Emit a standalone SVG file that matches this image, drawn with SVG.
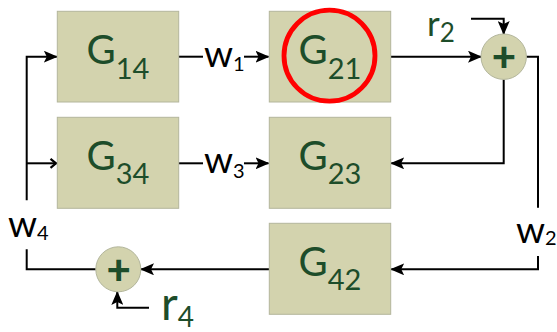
<svg xmlns="http://www.w3.org/2000/svg" width="557" height="332" viewBox="0 0 557 332">
<defs>
<style>
.box{fill:#d3d3ae;stroke:#b3b69c;stroke-width:1}
.sum{fill:#d3d3ae;stroke:#b3b69c;stroke-width:1}
.g{font-family:Lato,"Liberation Sans",sans-serif;font-size:40px;fill:#1d4d2a}
.g tspan{font-size:29px}
.w{font-family:Lato,"Liberation Sans",sans-serif;font-size:37px;fill:#000}
.w tspan{font-size:20px}
.r{font-family:Lato,"Liberation Sans",sans-serif;fill:#1d4d2a}
.plus{font-family:Lato,"Liberation Sans",sans-serif;font-size:42px;font-weight:900;fill:#1d4d2a;text-anchor:middle}
.ln{fill:none;stroke:#000;stroke-width:2}
</style>
<marker id="ah" markerUnits="userSpaceOnUse" markerWidth="14" markerHeight="12" viewBox="0 0 14 12" refX="13" refY="6" orient="auto">
<path d="M0,0 L14,6 L0,12 L3,6 Z" fill="#000"/>
</marker>
<marker id="oh" markerUnits="userSpaceOnUse" markerWidth="10" markerHeight="12" viewBox="0 0 10 12" refX="9" refY="6" orient="auto">
<path d="M3,1.5 L8.5,6 L3,10.5" fill="none" stroke="#000" stroke-width="2.2"/>
</marker>
</defs>
<rect width="557" height="332" fill="#fff"/>
<g id="connectors">
<path class="ln" d="M178.7,56.7 H203" />
<path class="ln" d="M244,56.7 H268.5" marker-end="url(#ah)"/>
<path class="ln" d="M178.7,163.3 H203" />
<path class="ln" d="M244,163.3 H268.5" marker-end="url(#ah)"/>
<path class="ln" d="M26.7,200.3 V56.7 H56.8" marker-end="url(#ah)"/>
<path class="ln" d="M26.7,163.3 H56.5" marker-end="url(#oh)"/>
<path class="ln" d="M26.7,249.3 V269.3 H95.8"/>
<path class="ln" d="M269,269.3 H141" marker-end="url(#ah)"/>
<path class="ln" d="M149,307.7 H117.3 V292" marker-end="url(#ah)"/>
<path class="ln" d="M391,56.7 H481" marker-end="url(#ah)"/>
<path class="ln" d="M526.4,56.7 H538 V207.7"/>
<path class="ln" d="M538,256 V269.3 H391.2" marker-end="url(#ah)"/>
<path class="ln" d="M503.7,79.4 V163.3 H391.2" marker-end="url(#ah)"/>
<path class="ln" d="M471,18.7 H503.7 V34" marker-end="url(#ah)"/>
</g>
<g id="G14"><rect class="box" x="57.3" y="11.3" width="121.4" height="90.7"/><text class="g" x="118" y="63.5" text-anchor="middle">G<tspan dy="15.5">14</tspan></text></g>
<g id="G21"><rect class="box" x="269.3" y="11.3" width="121.4" height="90.7"/><text class="g" x="330" y="63.5" text-anchor="middle">G<tspan dy="15.5">21</tspan></text></g>
<g id="G34"><rect class="box" x="57.3" y="117.3" width="121.4" height="91"/><text class="g" x="118" y="169.5" text-anchor="middle">G<tspan dy="14.5">34</tspan></text></g>
<g id="G23"><rect class="box" x="269.3" y="117.3" width="121.4" height="91"/><text class="g" x="330" y="169.5" text-anchor="middle">G<tspan dy="14.5">23</tspan></text></g>
<g id="G42"><rect class="box" x="269.3" y="223.3" width="121.4" height="91"/><text class="g" x="330" y="275.5" text-anchor="middle">G<tspan dy="14.5">42</tspan></text></g>
<g id="highlight"><circle cx="329.5" cy="55.7" r="45.5" fill="none" stroke="#ff0000" stroke-width="4.8"/></g>
<g id="sum2"><circle class="sum" cx="503.7" cy="56.7" r="22.7"/><text class="plus" x="504" y="71">+</text></g>
<g id="sum4"><circle class="sum" cx="118.3" cy="269.3" r="22.5"/><text class="plus" x="118.6" y="283.5">+</text></g>
<g id="labels">
<text class="w" x="204" y="66.5">w<tspan dy="4.5">1</tspan></text>
<text class="w" x="204" y="173">w<tspan dy="4.5">3</tspan></text>
<text class="w" x="8" y="236.5">w<tspan dy="3.5" font-size="23px">4</tspan></text>
<text class="w" x="516" y="243.3">w<tspan dy="2" font-size="19px">2</tspan></text>
<text class="r" x="427" y="35.5" font-size="35px">r<tspan dy="6" font-size="26px">2</tspan></text>
<text class="r" x="161" y="320" font-size="46px">r<tspan dy="7" font-size="28px">4</tspan></text>
</g>
</svg>
